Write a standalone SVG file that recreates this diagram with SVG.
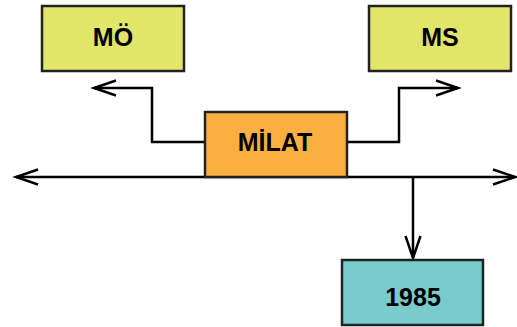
<svg xmlns="http://www.w3.org/2000/svg" width="517" height="327" viewBox="0 0 517 327">
<style>
.box{stroke:#222;stroke-width:2.5}
.lbl{font-family:"Liberation Sans",Arial,sans-serif;font-weight:bold;font-size:25px;fill:#000;text-anchor:middle}
.con{fill:none;stroke:#000;stroke-width:2.5}
</style>
<defs>
<marker id="arr" viewBox="-26 -12 30 24" refX="0" refY="0" markerWidth="30" markerHeight="24" markerUnits="userSpaceOnUse" orient="auto-start-reverse">
<path d="M-22,-7.5 L0,0 L-22,7.5" fill="none" stroke="#000" stroke-width="2.5"/>
</marker>
</defs>
<rect width="517" height="327" fill="#fff"/>
<g id="connectors">
<path class="con" d="M16,177 H515" marker-start="url(#arr)" marker-end="url(#arr)"/>
<path class="con" d="M205,142 H152 V88 H94" marker-end="url(#arr)"/>
<path class="con" d="M347,142 H399 V88 H458" marker-end="url(#arr)"/>
<path class="con" d="M413,177 V258" marker-end="url(#arr)"/>
</g>
<g id="mo">
<rect class="box" x="42" y="6" width="142" height="65" fill="#E1E56A"/>
<text class="lbl" x="113" y="46">MÖ</text>
</g>
<g id="ms">
<rect class="box" x="369" y="6" width="142" height="65" fill="#E1E56A"/>
<text class="lbl" x="440" y="46">MS</text>
</g>
<g id="milat">
<rect class="box" x="205" y="112" width="142" height="65" fill="#FBAF40"/>
<text class="lbl" x="275" y="151">MİLAT</text>
</g>
<g id="y1985">
<rect class="box" x="342" y="260" width="141" height="65" fill="#7ACCCC"/>
<text class="lbl" x="413" y="306">1985</text>
</g>
</svg>
